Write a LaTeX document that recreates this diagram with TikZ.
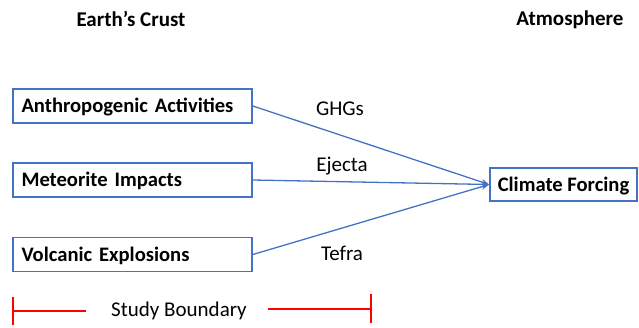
\documentclass[tikz,border=0pt]{standalone}
\usepackage{fontspec}
\setmainfont{Carlito}
\usetikzlibrary{arrows.meta}
\definecolor{boxblue}{HTML}{4472C4}
\definecolor{bred}{HTML}{FF0000}
\begin{document}
\begin{tikzpicture}[x=1pt,y={(0pt,-1pt)},
  srcbox/.style={draw=boxblue,line width=1.6pt,minimum height=34pt,minimum width=239pt,
    text width=222pt,inner xsep=8.5pt,align=left,text height=13.5pt,text depth=0pt,
    font=\fontsize{20.6}{24}\selectfont\bfseries},
  dstbox/.style={draw=boxblue,line width=1.6pt,minimum height=33pt,minimum width=147pt,
    inner xsep=4pt,text height=13.5pt,text depth=0pt,font=\fontsize{20.6}{24}\selectfont\bfseries},
  flow/.style={draw=boxblue,line width=1.3pt,-{Stealth[length=8pt,width=6pt]}},
  lbl/.style={font=\fontsize{21}{25}\selectfont},
  head/.style={font=\fontsize{21}{25}\selectfont\bfseries},
  bnd/.style={draw=bred,line width=1.5pt}]
\useasboundingbox (0,0) rectangle (639,327);
\node[head] (h1) at (131,19) {Earth’s Crust};
\node[head] (h2) at (570,20) {Atmosphere};
\node[srcbox] (a) at (132.5,106) {Anthropogenic Activities};
\node[srcbox] (m) at (132.5,180) {Meteorite Impacts};
\node[srcbox] (v) at (132.5,254.5) {Volcanic Explosions};
\node[dstbox] (c) at (563.5,184.5) {Climate Forcing};
\draw[flow] (a.east) -- (c.west);
\draw[flow] (m.east) -- (c.west);
\draw[flow] (v.east) -- (c.west);
\node[lbl] (g) at (340,109) {GHGs};
\node[lbl] (e) at (342,166) {Ejecta};
\node[lbl] (t) at (342,253) {Tefra};
\node[lbl] (s) at (179,311) {Study Boundary};
\coordinate (l1) at (13,297);
\coordinate (l2) at (13,325);
\coordinate (l3) at (13,311);
\coordinate (l4) at (86,311);
\coordinate (r1) at (268,309);
\coordinate (r2) at (371,309);
\coordinate (r3) at (371,294);
\coordinate (r4) at (371,323);
\draw[bnd] (l1) -- (l2);
\draw[bnd] (l3) -- (l4);
\draw[bnd] (r1) -- (r2);
\draw[bnd] (r3) -- (r4);
\end{tikzpicture}
\end{document}
